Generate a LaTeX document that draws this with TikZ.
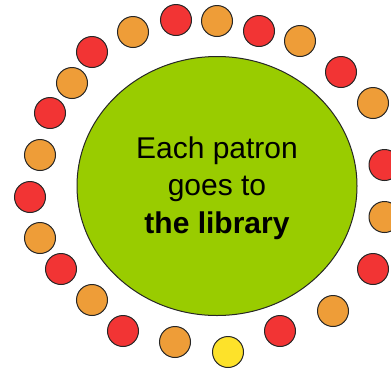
\documentclass[tikz,border=0pt]{standalone}
\usepackage{fontspec}
\setmainfont{Liberation Sans}
\usepackage{tikz}
\usetikzlibrary{shapes.geometric}

\definecolor{libgreen}{HTML}{99CC00}
\definecolor{patred}{HTML}{F23434}
\definecolor{patorange}{HTML}{EE9D38}
\definecolor{patyellow}{HTML}{FDE22A}

\begin{document}
\begin{tikzpicture}[x=1pt, y=-1pt,
  library/.style={ellipse, draw=black!85, fill=libgreen, line width=1pt,
    minimum width=280pt, minimum height=259pt, inner sep=0pt},
  caption/.style={align=center, font=\fontsize{30}{37.5}\selectfont, inner sep=0pt},
  patron/.style={circle, draw=black!85, line width=1pt, minimum size=31pt, inner sep=0pt},
  red/.style={patron, fill=patred},
  orange/.style={patron, fill=patorange},
  yellow/.style={patron, fill=patyellow},
]
\clip (0,0) rectangle (391,368);
\fill[white] (0,0) rectangle (391,368);

% Library
\node[library] (lib) at (217,186) {};
\node[caption] (txt) at (217,188) {Each patron\\goes to\\\textbf{the library}};

% Patrons - top arc
\node[orange] (p1) at (133,32) {};
\node[red] (p2) at (176,20) {};
\node[orange] (p3) at (217,21) {};
\node[red] (p4) at (259,31) {};
\node[orange] (p5) at (300,41) {};

% Patrons - right side
\node[red] (p6) at (341,72) {};
\node[orange] (p7) at (373,103) {};
\node[red] (p8) at (384.5,165) {};
\node[orange] (p9) at (384.5,217) {};
\node[red] (p10) at (373,269) {};
\node[orange] (p11) at (333,311) {};

% Patrons - bottom arc
\node[red] (p12) at (280,331) {};
\node[yellow] (p13) at (228,352) {};
\node[orange] (p14) at (175,342) {};
\node[red] (p15) at (123,331) {};

% Patrons - left side
\node[orange] (p16) at (92,300) {};
\node[red] (p17) at (61,269) {};
\node[orange] (p18) at (40,238) {};
\node[red] (p19) at (30,197) {};
\node[orange] (p20) at (40,155) {};
\node[red] (p21) at (50,113) {};
\node[orange] (p22) at (72,83) {};
\node[red] (p23) at (92,52) {};

\end{tikzpicture}
\end{document}
